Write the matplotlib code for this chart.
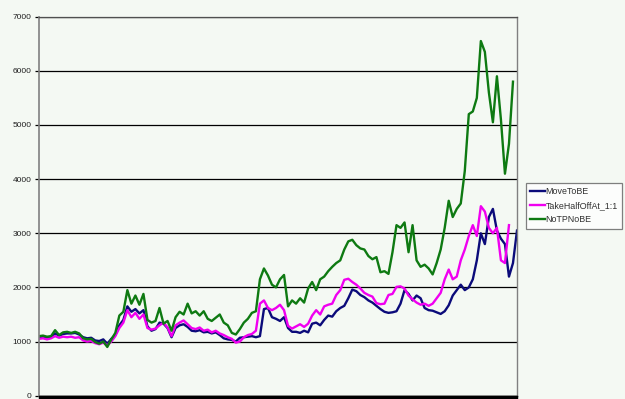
import matplotlib
matplotlib.use("Agg")
import matplotlib.pyplot as plt
from matplotlib.patches import Rectangle
import numpy as np

series_names = ["MoveToBE", "TakeHalfOffAt_1:1", "NoTPNoBE"]

move_to_be = [
    1080, 1090, 1070, 1090, 1150, 1110, 1140, 1150, 1150, 1160,
    1130, 1080, 1060, 1070, 1020, 1010, 1040, 960, 1050, 1120,
    1300, 1400, 1650, 1550, 1600, 1520, 1580, 1280, 1200, 1230,
    1350, 1330, 1250, 1080, 1250, 1300, 1320, 1270, 1200, 1190,
    1210, 1170, 1180, 1150, 1170, 1120, 1060, 1040, 1030, 1000,
    1070, 1080, 1090, 1100, 1080, 1100, 1600, 1620, 1450, 1420,
    1380, 1450, 1250, 1180, 1180, 1160, 1200, 1170, 1330, 1350,
    1300, 1400, 1480, 1460, 1560, 1620, 1660, 1800, 1960, 1930,
    1860, 1820, 1760, 1720, 1660, 1600, 1550, 1530, 1540, 1560,
    1700, 1950, 1880, 1760, 1850, 1800, 1620, 1580, 1570, 1540,
    1510, 1560, 1670, 1850, 1950, 2050, 1950, 2000, 2150, 2500,
    3000, 2800, 3300, 3450, 3050, 2900, 2800, 2200, 2450, 3050,
]

take_half = [
    1050, 1060, 1040, 1060, 1100, 1070, 1090, 1080, 1090, 1070,
    1080, 1020, 1000, 1010, 970, 950, 980, 930, 1000, 1100,
    1250, 1350, 1580, 1450, 1530, 1420, 1500, 1250, 1220, 1240,
    1300, 1350, 1260, 1100, 1300, 1350, 1390, 1320, 1250, 1230,
    1260, 1200, 1220, 1170, 1200, 1150, 1120, 1080, 1050, 980,
    1000, 1080, 1120, 1140, 1200, 1700, 1760, 1620, 1580, 1620,
    1680, 1580, 1290, 1240, 1280, 1320, 1270, 1330, 1480, 1580,
    1500, 1650, 1680, 1700, 1860, 1950, 2140, 2160, 2100, 2050,
    1980, 1900, 1860, 1830, 1710, 1690, 1700, 1860, 1880, 2010,
    2020, 1980, 1850, 1780, 1720, 1680, 1700, 1660, 1700, 1800,
    1900, 2150, 2330, 2150, 2200, 2500, 2700, 2950, 3150, 2950,
    3500, 3400, 3100, 3000, 3100, 2500, 2450, 3150,
]

no_tp_no_be = [
    1100, 1110, 1090, 1100, 1210, 1120, 1170, 1180, 1160, 1180,
    1150, 1060, 1040, 1050, 990, 960, 1000, 900, 1040, 1160,
    1480, 1550, 1950, 1700, 1850, 1680, 1880, 1400, 1350, 1380,
    1620, 1330, 1380, 1200, 1450, 1550, 1500, 1700, 1520, 1560,
    1480, 1560, 1420, 1380, 1440, 1500, 1350, 1300, 1160, 1130,
    1230, 1350, 1420, 1530, 1560, 2150, 2350, 2220, 2050, 2000,
    2150, 2230, 1650, 1760, 1700, 1800, 1720, 1980, 2100, 1950,
    2150, 2200, 2300, 2380, 2450, 2500, 2700, 2850, 2880, 2780,
    2720, 2700, 2580, 2520, 2560, 2280, 2300, 2250, 2650, 3150,
    3100, 3200, 2650, 3150, 2500, 2380, 2420, 2350, 2240, 2450,
    2700, 3100, 3600, 3300, 3450, 3550, 4150, 5200, 5250, 5500,
    6550, 6350, 5600, 5050, 5900, 5100, 4100, 4650, 5800,
]

y_ticks = [0, 1000, 2000, 3000, 4000, 5000, 6000, 7000]
colors = ["#0B0B7A", "#F000F0", "#0E7A12"]

plt.rcParams['font.family'] = ['Liberation Sans', 'DejaVu Sans']

bg = "#F4F9F3"
fig = plt.figure(figsize=(6.25, 3.99), dpi=100, facecolor=bg)
W, H = 625, 399
left, right, top, bottom = 39, 517, 16.7, 395.7
ax = fig.add_axes([left / W, 1 - bottom / H, (right - left) / W, (bottom - top) / H])
ax.set_facecolor(bg)

for name, data, c in zip(series_names, [move_to_be, take_half, no_tp_no_be], colors):
    ax.plot(np.arange(len(data)), data, color=c, lw=1.7, label=name)

ax.set_xlim(0, len(move_to_be) - 1)
ax.set_ylim(0, 7000)
ax.set_yticks(y_ticks)
ax.set_yticklabels([str(v) for v in y_ticks], fontsize=6.0, color="#202020")
ax.yaxis.grid(True, color="black", lw=0.9)
ax.set_axisbelow(True)
ax.tick_params(axis='y', length=3, width=0.9, color='black', pad=2.5)
ax.set_xticks([])
ax.spines["top"].set_color("#505050")
ax.spines["top"].set_linewidth(0.9)
ax.spines["left"].set_color("#808080")
ax.spines["left"].set_linewidth(1.2)
ax.spines["right"].set_color("#808080")
ax.spines["right"].set_linewidth(1.0)
ax.spines["bottom"].set_color("black")
ax.spines["bottom"].set_linewidth(1.0)

# crowded category tick marks appear as a solid black bar under the axis
fig.patches.append(Rectangle((left / W, 0), (right - left) / W, (H - bottom) / H,
                             transform=fig.transFigure, color="black", zorder=5))

leg = fig.legend(loc="upper left", bbox_to_anchor=(526 / W, 1 - 183 / H),
                 borderaxespad=0, frameon=True, fancybox=False,
                 handlelength=1.6, handletextpad=0.1, labelspacing=0.55,
                 borderpad=0.5, prop={'size': 6.4})
leg.get_frame().set_edgecolor("#606060")
leg.get_frame().set_linewidth(0.9)
leg.get_frame().set_facecolor("white")
for t in leg.get_texts():
    t.set_color("#303030")

fig.savefig("out.png", dpi=100, facecolor=bg)
